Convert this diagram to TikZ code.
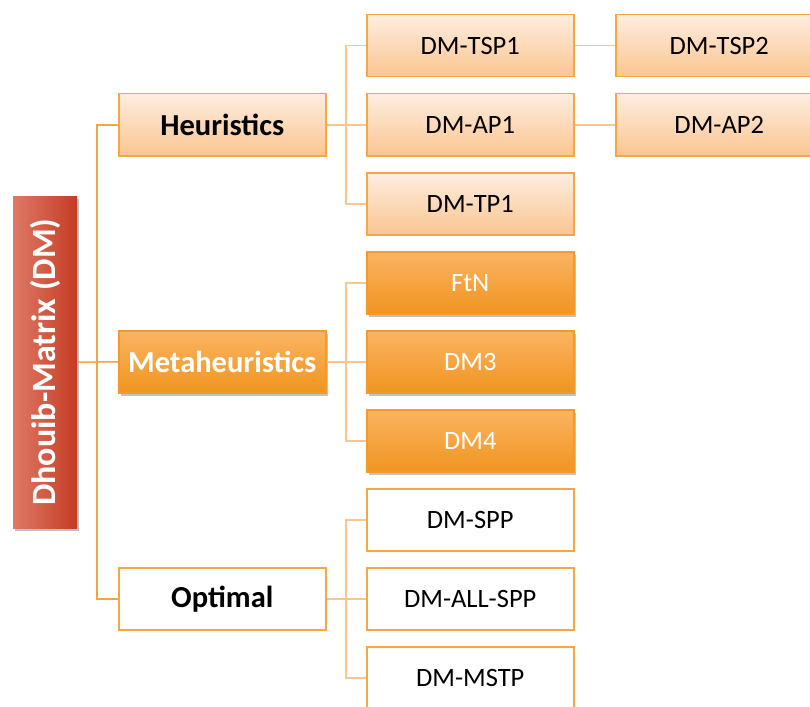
\documentclass[tikz,border=0pt]{standalone}
\usepackage{fontspec}
\setmainfont{Carlito}
\usepackage{graphicx}
\usetikzlibrary{shadows}
\definecolor{lineTrunk}{HTML}{F5A443}
\definecolor{lineBranch}{HTML}{FAC690}
\definecolor{boxBorder}{HTML}{F6A642}
\definecolor{lightTop}{HTML}{FEEDE0}
\definecolor{lightBot}{HTML}{FBC590}
\definecolor{metaTop}{HTML}{FBB462}
\definecolor{metaBot}{HTML}{F0951F}
\definecolor{metaBorder}{HTML}{F29A2E}
\definecolor{rootLeft}{HTML}{DE7A66}
\definecolor{rootRight}{HTML}{C53B23}
\begin{document}
\begin{tikzpicture}[x=1pt,y=-1pt,
  box/.style={draw=boxBorder, line width=1.5pt, minimum width=207pt, minimum height=62pt,
    anchor=north west, inner sep=0pt, font=\fontsize{26.5}{30}\selectfont},
  lightbox/.style={box, top color=lightTop, bottom color=lightBot},
  metabox/.style={box, draw=metaBorder, top color=metaTop, bottom color=metaBot, text=white,
    drop shadow={shadow xshift=2pt, shadow yshift=-3pt, opacity=0.35, fill=black!70}},
  plainbox/.style={box, fill=white},
  headfont/.style={font=\fontsize{30.5}{34}\selectfont\bfseries},
  trunk/.style={draw=lineTrunk, line width=1.5pt},
  branch/.style={draw=lineBranch, line width=1.5pt}]
\useasboundingbox (0,0) rectangle (810,706);
\coordinate (t) at (97,362);
\coordinate (bh) at (346,125);
\coordinate (bm) at (346,362);
\coordinate (bo) at (346,599);
% root
\node[draw=none, minimum width=64pt, minimum height=332pt, inner sep=0pt, anchor=north west,
  left color=rootLeft, right color=rootRight, text=white,
  drop shadow={shadow xshift=2pt, shadow yshift=-3pt, opacity=0.35, fill=black!70},
  font=\fontsize{34}{36}\selectfont\bfseries] (root) at (13,196) {\rotatebox{90}{Dhouib-Matrix (DM)}};
% level 1
\node[lightbox, headfont] (heur) at (118,93) {Heuristics};
\node[metabox, headfont] (meta) at (118,330) {Metaheuristics};
\node[plainbox, headfont] (opt) at (118,567) {Optimal};
% level 2
\node[lightbox] (tsp1) at (366,14) {DM-TSP1};
\node[lightbox] (ap1) at (366,93) {DM-AP1};
\node[lightbox] (tp1) at (366,172) {DM-TP1};
\node[metabox] (ftn) at (366,251) {FtN};
\node[metabox] (dm3) at (366,330) {DM3};
\node[metabox] (dm4) at (366,409) {DM4};
\node[plainbox] (spp) at (366,488) {DM-SPP};
\node[plainbox] (allspp) at (366,567) {DM-ALL-SPP};
\node[plainbox] (mstp) at (366,646) {DM-MSTP};
% level 3
\node[lightbox] (tsp2) at (615,14) {DM-TSP2};
\node[lightbox] (ap2) at (615,93) {DM-AP2};
% trunk connectors
\draw[trunk] (root.east) -- (meta.west);
\draw[trunk] (heur.west) -| (t) |- (opt.west);
% branch connectors
\draw[branch] (heur.east) -- (ap1.west);
\draw[branch] (tsp1.west) -| (bh) |- (tp1.west);
\draw[branch] (meta.east) -- (dm3.west);
\draw[branch] (ftn.west) -| (bm) |- (dm4.west);
\draw[branch] (opt.east) -- (allspp.west);
\draw[branch] (spp.west) -| (bo) |- (mstp.west);
\draw[branch] (tsp1.east) -- (tsp2.west);
\draw[branch] (ap1.east) -- (ap2.west);
\end{tikzpicture}
\end{document}
